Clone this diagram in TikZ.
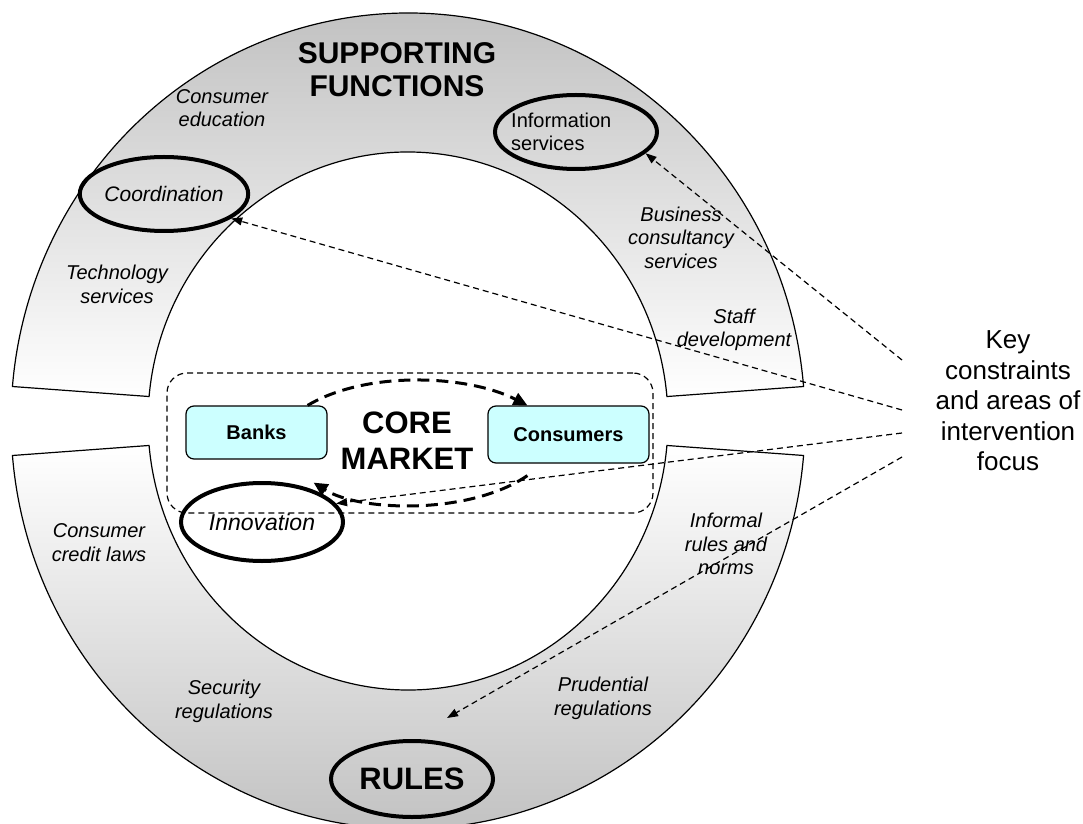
\documentclass[tikz,border=0pt]{standalone}
\usepackage{fontspec}
\setmainfont{Liberation Sans}
\usetikzlibrary{shapes.geometric,arrows.meta}
\definecolor{boxcyan}{HTML}{CCFFFF}
\begin{document}
\begin{tikzpicture}[x=1pt,y=1pt,
  ringband/.style={draw=black,line width=1.2pt},
  oval/.style={ellipse,draw=black,line width=4pt,inner sep=0pt,minimum width=162pt,minimum height=74pt},
  lbl/.style={align=center,font=\fontsize{20}{23.5}\selectfont\itshape,inner sep=0pt},
  bigtitle/.style={align=center,font=\fontsize{30}{33}\selectfont\bfseries,inner sep=0pt},
  actor/.style={draw=black,line width=1.2pt,fill=boxcyan,rounded corners=8pt,font=\fontsize{20}{24}\selectfont\bfseries,inner sep=0pt},
  hint/.style={dash pattern=on 6pt off 4pt,line width=1.2pt,-{Triangle[length=11pt,width=8pt]}},
  flow/.style={dash pattern=on 12pt off 7pt,line width=3pt,-{Triangle[length=14pt,width=13pt]}},
  corebox/.style={draw=black,dash pattern=on 6pt off 4pt,line width=1.2pt,rounded corners=20pt,minimum width=486pt,minimum height=140pt,inner sep=0pt}
]
\useasboundingbox (0,0) rectangle (1083,823);
% ring bands
\begin{scope}[shift={(408,402)}]
\path[ringband,top color=black!25,bottom color=white]
  (4.85:397pt and 408pt) arc[start angle=4.85,end angle=175.15,x radius=397pt,y radius=408pt]
  -- (174.78:260pt and 269pt) arc[start angle=174.78,end angle=5.22,x radius=260pt,y radius=269pt] -- cycle;
\path[ringband,top color=white,bottom color=black!25]
  (184.85:397pt and 408pt) arc[start angle=184.85,end angle=355.15,x radius=397pt,y radius=408pt]
  -- (354.78:260pt and 269pt) arc[start angle=354.78,end angle=185.22,x radius=260pt,y radius=269pt] -- cycle;
\end{scope}
% core market
\node[corebox] (core) at (410,380) {};
\node[actor,minimum width=141pt,minimum height=53pt] (banks) at (256.5,390.5) {Banks};
\node[actor,minimum width=161pt,minimum height=57pt] (cons) at (568.5,388.5) {Consumers};
\node[bigtitle,font=\fontsize{31}{36}\selectfont\bfseries] (coretxt) at (407,382) {CORE\\MARKET};
% titles
\node[bigtitle] (supp) at (397,753) {SUPPORTING\\FUNCTIONS};
\node[align=center,font=\fontsize{26}{30.5}\selectfont,inner sep=0pt] (key) at (1008,422) {Key\\constraints\\and areas of\\intervention\\focus};
% ellipses
\node[oval] (info) at (576,691) {};
\node[align=left,font=\fontsize{20}{23}\selectfont,inner sep=0pt,anchor=west] (infotxt) at (511,691) {Information\\services};
\node[oval,font=\fontsize{21}{24}\selectfont\itshape] (coord) at (164,629) {Coordination};
\node[oval,minimum height=78pt,font=\fontsize{23}{26}\selectfont\itshape] (innov) at (262,301) {Innovation};
\node[oval,minimum height=76pt,font=\fontsize{31}{34}\selectfont\bfseries] (rules) at (412,44) {RULES};
% labels
\node[lbl] (consedu) at (222,715) {Consumer\\education};
\node[lbl] (tech) at (117,538.5) {Technology\\services};
\node[lbl] (bus) at (681,585.5) {Business\\consultancy\\services};
\node[lbl] (staff) at (734,493) {Staff\\development};
\node[lbl] (ccl) at (99,280.5) {Consumer\\credit laws};
\node[lbl] (inf) at (726,279) {Informal\\rules and\\norms};
\node[lbl] (sec) at (224,121.5) {Security\\regulations};
\node[lbl] (pru) at (603,124.5) {Prudential\\regulations};
% flows
\draw[flow] ([xshift=-20pt]banks.north east) .. controls (367,453) and (468,448) .. ([xshift=40pt]cons.north west);
\draw[flow] ([xshift=40pt,yshift=-12pt]cons.south west) .. controls (470,308) and (360,311) .. ([xshift=-14pt,yshift=-23pt]banks.south east);
% hints
\coordinate (k1) at (902,463);
\coordinate (k2) at (902,413);
\coordinate (k3) at (902,390);
\coordinate (k4) at (902,366);
\coordinate (r4) at (447,105);
\draw[hint] (k1) -- (info.-17);
\draw[hint] (k2) -- (coord.-20);
\draw[hint] (k3) -- (innov.14);
\draw[hint] (k4) -- (r4);
\end{tikzpicture}
\end{document}
